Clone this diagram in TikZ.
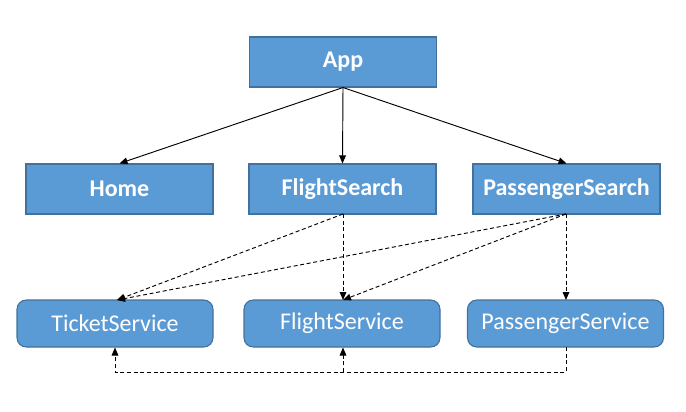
\documentclass[tikz,border=0pt]{standalone}
\usepackage{fontspec}
\setmainfont{Carlito}
\usetikzlibrary{arrows.meta}
\definecolor{boxfill}{HTML}{5B9BD5}
\definecolor{boxline}{HTML}{41719C}
\begin{document}
\begin{tikzpicture}[x=0.75pt,y=-0.75pt,
  comp/.style={draw=boxline,fill=boxfill,line width=0.8pt,minimum width=187*0.75pt,minimum height=50*0.75pt,inner sep=0pt,text=white,font=\bfseries\fontsize{18}{21}\selectfont},
  svc/.style={draw=boxline,fill=boxfill,line width=0.8pt,rounded corners=7pt,minimum width=196*0.75pt,minimum height=47*0.75pt,inner sep=0pt,text=white,font=\fontsize{18}{21}\selectfont},
  solidarr/.style={-{Triangle[length=6pt,width=5pt]},line width=0.7pt},
  dasharr/.style={-{Triangle[length=6pt,width=5pt]},line width=0.7pt,dash pattern=on 3pt off 2pt}]
\useasboundingbox (0,0) rectangle (686,411);
\node[comp] (app) at (343,62) {App};
\node[comp] (home) at (119.5,189) {Home};
\node[comp] (fs) at (342.5,189) {FlightSearch};
\node[comp] (ps) at (566.5,189) {PassengerSearch};
\node[svc] (ts) at (115,323.5) {TicketService};
\node[svc] (fsv) at (342,323.5) {FlightService};
\node[svc] (psv) at (565.5,323.5) {PassengerService};
\coordinate (appb) at (app.south);
\draw[solidarr] (appb) -- (home.north);
\draw[solidarr] (appb) -- (fs.north);
\draw[solidarr] (appb) -- (ps.north);
\coordinate (fsb) at (343,214);
\coordinate (psb) at (566,214);
\coordinate (tst) at (117,300);
\coordinate (fst) at (343,300);
\coordinate (pst) at (566,300);
\draw[dasharr] (fsb) -- (tst);
\draw[dasharr] (fsb) -- (fst);
\draw[dasharr] (psb) -- (tst);
\draw[dasharr] (psb) -- (fst);
\draw[dasharr] (psb) -- (pst);
\coordinate (psvb) at (566,347);
\coordinate (c1) at (566,372);
\coordinate (c2) at (343,372);
\coordinate (c3) at (115,372);
\draw[dasharr] (psvb) -- (c1) -- (c3) -- (ts.south);
\draw[dasharr] (c2) -- (fsv.south -| c2);
\end{tikzpicture}
\end{document}
